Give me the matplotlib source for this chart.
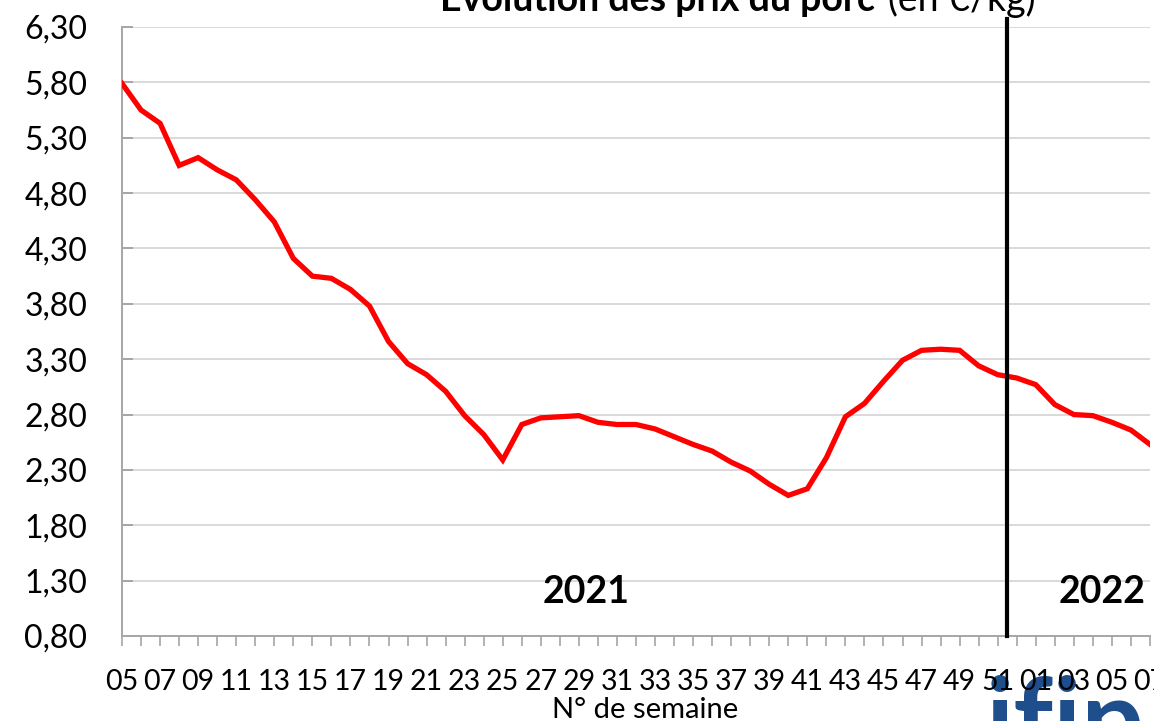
import matplotlib
matplotlib.use('Agg')
import matplotlib.pyplot as plt

plt.rcParams['font.family'] = ['Lato', 'DejaVu Sans']

weeks = ['05', '06', '07', '08', '09', '10', '11', '12', '13', '14', '15', '16',
         '17', '18', '19', '20', '21', '22', '23', '24', '25', '26', '27', '28',
         '29', '30', '31', '32', '33', '34', '35', '36', '37', '38', '39', '40',
         '41', '42', '43', '44', '45', '46', '47', '48', '49', '50', '51', '52',
         '01', '02', '03', '04', '05', '06', '07']
prices = [5.79, 5.55, 5.43, 5.05, 5.12, 5.01, 4.92, 4.74, 4.54, 4.21, 4.05, 4.03,
          3.93, 3.78, 3.46, 3.26, 3.16, 3.01, 2.79, 2.62, 2.39, 2.71, 2.77, 2.78,
          2.79, 2.73, 2.71, 2.71, 2.67, 2.60, 2.53, 2.47, 2.37, 2.29, 2.17, 2.07,
          2.13, 2.41, 2.78, 2.90, 3.10, 3.29, 3.38, 3.39, 3.38, 3.24, 3.16, 3.13,
          3.07, 2.89, 2.80, 2.79, 2.73, 2.66, 2.53]
yticks = [0.80, 1.30, 1.80, 2.30, 2.80, 3.30, 3.80, 4.30, 4.80, 5.30, 5.80, 6.30]
year_split = 46.5  # entre semaine 51 et 52

fig = plt.figure(figsize=(11.54, 7.21), dpi=100)
ax = fig.add_axes([122 / 1154, 1 - 636 / 721, 1028 / 1154, 609 / 721])

x = list(range(len(weeks)))
ax.plot(x, prices, color='#ff0000', lw=3.8, solid_joinstyle='miter', zorder=3)

ax.set_xlim(0, len(weeks) - 1)
ax.set_ylim(0.80, 6.30)

ax.set_yticks(yticks)
ax.set_yticklabels([('%.2f' % v).replace('.', ',') for v in yticks], fontsize=23)
ax.set_xticks(x)
ax.set_xticklabels([w if i % 2 == 0 else '' for i, w in enumerate(weeks)], fontsize=20.5)

ax.grid(axis='y', color='#d9d9d9', lw=1.4)
ax.set_axisbelow(True)
for s in ['top', 'right']:
    ax.spines[s].set_visible(False)
for s in ['left', 'bottom']:
    ax.spines[s].set_color('#a6a6a6')
    ax.spines[s].set_linewidth(1.4)
ax.tick_params(axis='y', direction='in', length=8, width=1.4, color='#a6a6a6', pad=25)
ax.tick_params(axis='x', direction='out', length=7, width=1.2, color='#a6a6a6', pad=17)

ax.plot([year_split, year_split], [0.80, 6.37], color='black', lw=3, clip_on=False, zorder=4)

ax.text(24.4, 1.20, '2021', fontsize=27, fontweight='bold', ha='center', va='center')
ax.text(51.5, 1.20, '2022', fontsize=27, fontweight='bold', ha='center', va='center',
        clip_on=False)

fig.text(875 / 1154, 1 - 11 / 721, 'Evolution des prix du porc', fontsize=27,
         fontweight='bold', ha='right', va='baseline')
fig.text(888 / 1154, 1 - 11 / 721, '(en €/kg)', fontsize=27, ha='left', va='baseline')

fig.text(645 / 1154, 3 / 721, 'N° de semaine', fontsize=21, ha='center', va='baseline')

fig.text(986 / 1154, -37 / 721, 'ifip', fontsize=80, fontweight='bold',
         color='#1f4e8c', ha='left', va='baseline', zorder=-1)

fig.savefig('out.png', dpi=100)
